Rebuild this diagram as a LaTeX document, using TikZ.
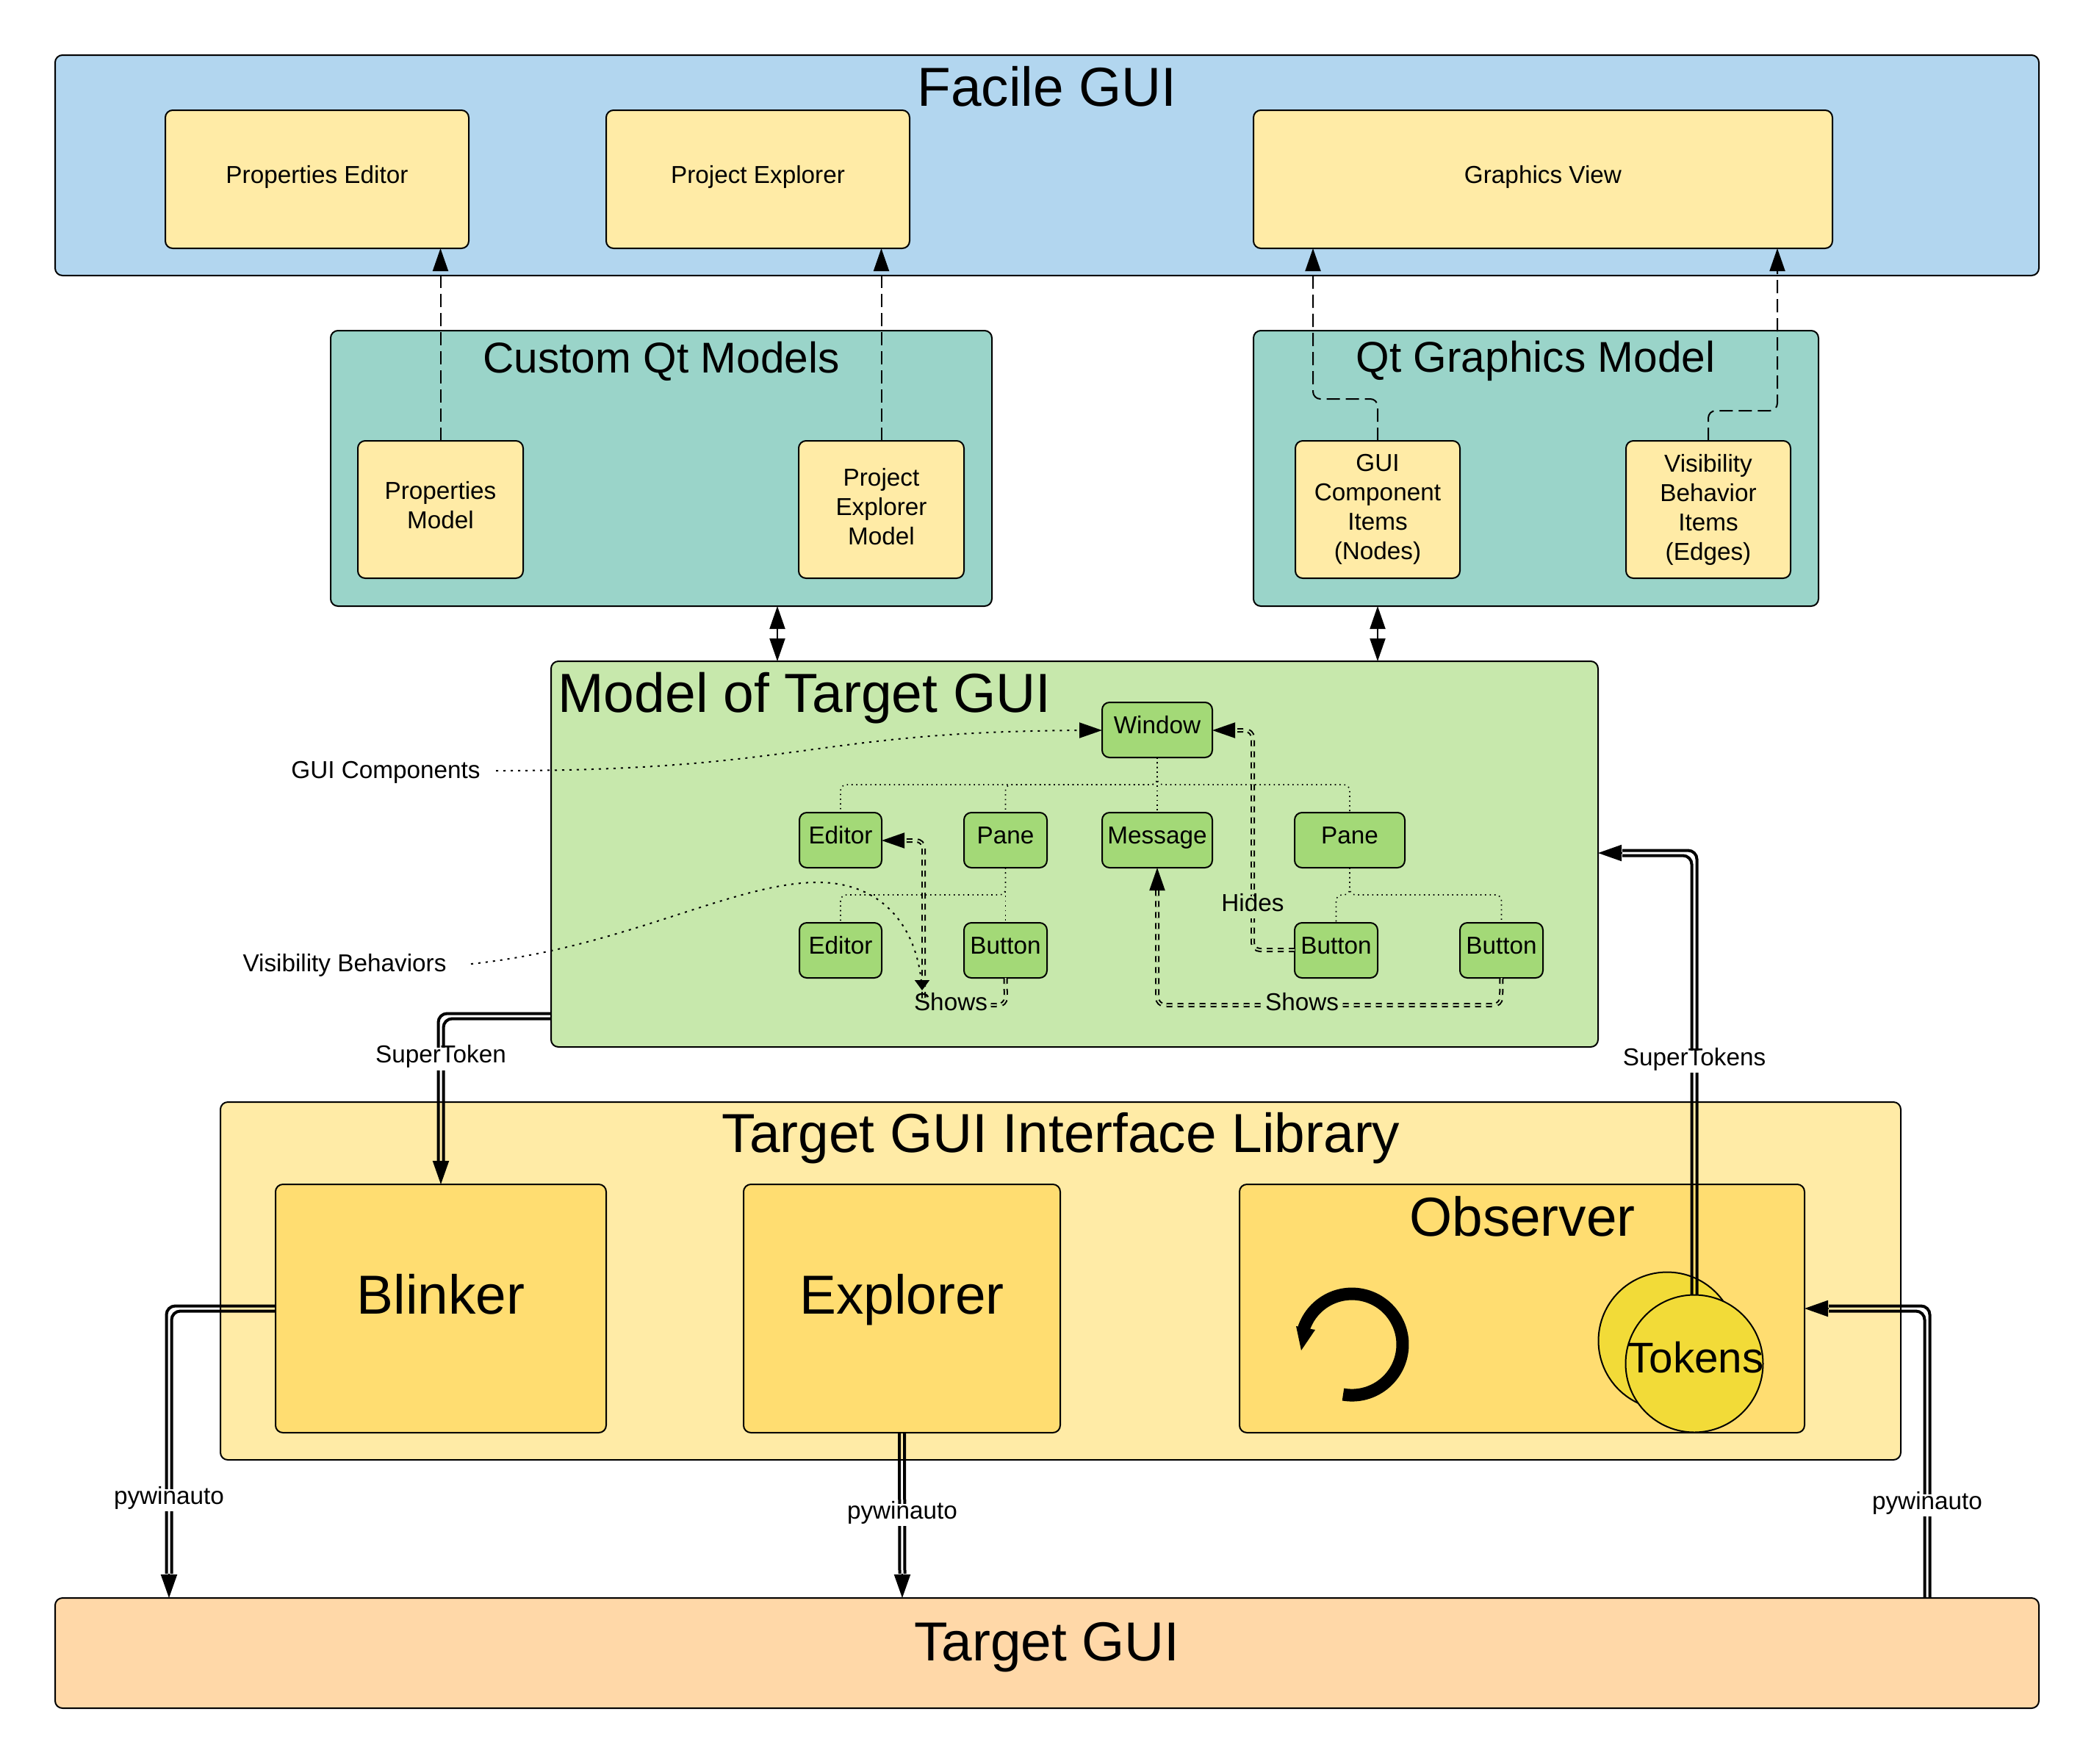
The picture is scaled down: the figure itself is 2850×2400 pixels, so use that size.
\documentclass[tikz,border=0pt]{standalone}
\usepackage{fontspec}
\setmainfont{Liberation Sans}
\usetikzlibrary{arrows.meta,calc}
\definecolor{cblue}{HTML}{B2D6EF}
\definecolor{cteal}{HTML}{9AD4C9}
\definecolor{cgreen}{HTML}{C7E8AC}
\definecolor{cgreenb}{HTML}{A3D977}
\definecolor{cyel}{HTML}{FFEBA6}
\definecolor{cyelb}{HTML}{FFDD71}
\definecolor{corg}{HTML}{FFD8A8}
\definecolor{ctok}{HTML}{F2DB38}
\newcommand\fs[1]{\fontsize{#1}{20pt}\selectfont}
\newcommand\bx[7]{\node[boxnode,#1,minimum width={(#5-#3)*.5pt},minimum height={(#6-#4)*.5pt}] (#2) at ({(#3+#5)/2},{(#4+#6)/2}) {#7};}
\tikzset{
 boxnode/.style={draw=black,line width=1pt,rounded corners=5pt,inner sep=0pt,outer sep=0pt,align=center,font=\fs{16.65}},
 oneline/.style={text height=.73em,text depth=.2em},
 bigtxt/.style={font=\fs{37.4},text height=.94em,text depth=.17em},
 title/.style={inner sep=0pt,anchor=base},
 conlabel/.style={font=\fs{16.65},text height=.73em,text depth=.21em,inner xsep=2pt,inner ysep=3pt},
 dashline/.style={line width=1pt,dash pattern=on 9pt off 4pt,rounded corners=5pt,-{Triangle[length=15.5pt,width=10.5pt]}},
 twohead/.style={line width=1pt,{Triangle[length=15.5pt,width=10.5pt]}-{Triangle[length=15.5pt,width=10.5pt]}},
 dblline/.style={line width=2pt,rounded corners=6pt},
 dblhead/.style={line width=1pt,-{Triangle[length=16pt,width=11pt]}},
 ddash/.style={line width=1pt,double=cgreen,double distance=1pt,dash pattern=on 4pt off 3.5pt,rounded corners=5pt},
 ddhead/.style={line width=1pt,-{Triangle[length=15.5pt,width=10.5pt]}},
 treeline/.style={line width=.8pt,dash pattern=on .8pt off 2.4pt,rounded corners=4pt},
 noteline/.style={line width=1pt,dash pattern=on 1.5pt off 3.5pt},
}
\begin{document}
\begin{tikzpicture}[x=.5pt,y=-.5pt]
\useasboundingbox (0,0) rectangle (2850,2400);
% containers
\bx{fill=cblue}{facile}{75}{75}{2775}{375}{}
\bx{fill=cteal}{cqm}{450}{450}{1350}{825}{}
\bx{fill=cteal}{qgm}{1706}{450}{2475}{825}{}
\bx{fill=cgreen}{model}{750}{900}{2175}{1425}{}
\bx{fill=cyel}{lib}{300}{1500}{2587}{1987}{}
\bx{fill=corg,bigtxt,text height=1.13em,text depth=.06em}{target}{75}{2175}{2775}{2325}{Target GUI}
% titles
\node[title,font=\fs{37.4}] (tfacile) at (1425,144) {Facile GUI};
\node[title,font=\fs{29.3}] (tcqm) at (900,507) {Custom Qt Models};
\node[title,font=\fs{29.3}] (tqgm) at (2090,506) {Qt Graphics Model};
\node[title,font=\fs{37.5}] (tmodel) at (1095,969) {Model of Target GUI};
\node[title,font=\fs{37.4}] (tlib) at (1444,1568) {Target GUI Interface Library};
% yellow boxes
\bx{fill=cyel,oneline}{pe}{225}{150}{638}{338}{Properties Editor}
\bx{fill=cyel,oneline}{px}{825}{150}{1238}{338}{Project Explorer}
\bx{fill=cyel,oneline}{gv}{1706}{150}{2494}{338}{Graphics View}
\bx{fill=cyel,text depth=6.4pt}{pm}{487}{600}{712}{787}{Properties\\Model}
\bx{fill=cyel,text depth=3.6pt}{xm}{1087}{600}{1312}{787}{Project\\Explorer\\Model}
\bx{fill=cyel}{gi}{1763}{600}{1987}{787}{GUI\\Component\\Items\\(Nodes)}
\bx{fill=cyel}{vi}{2213}{600}{2437}{787}{Visibility\\Behavior\\Items\\(Edges)}
% green boxes
\bx{fill=cgreenb,oneline}{win}{1500}{956}{1650}{1031}{Window}
\bx{fill=cgreenb,oneline}{ed}{1088}{1106}{1200}{1181}{Editor}
\bx{fill=cgreenb,oneline}{pa}{1312}{1106}{1425}{1181}{Pane}
\bx{fill=cgreenb,oneline}{msg}{1500}{1106}{1650}{1181}{Message}
\bx{fill=cgreenb,oneline}{pb}{1762}{1106}{1912}{1181}{Pane}
\bx{fill=cgreenb,oneline}{edb}{1088}{1256}{1200}{1331}{Editor}
\bx{fill=cgreenb,oneline}{bta}{1312}{1256}{1425}{1331}{Button}
\bx{fill=cgreenb,oneline}{btb}{1762}{1256}{1875}{1331}{Button}
\bx{fill=cgreenb,oneline}{btc}{1987}{1256}{2100}{1331}{Button}
% lower boxes
\bx{fill=cyelb,bigtxt}{blink}{375}{1612}{825}{1950}{Blinker}
\bx{fill=cyelb,bigtxt}{expl}{1012}{1612}{1443}{1950}{Explorer}
\bx{fill=cyelb}{obs}{1687}{1612}{2456}{1950}{}
\node[title,font=\fs{37.4}] (tobs) at (2072,1682) {Observer};
% loop arrow
\draw[line width=8.5pt] (1828,1898) arc[start angle=260,end angle=525,radius=34.5pt];
\fill (1764,1805) -- (1790,1810) -- (1771,1838) -- cycle;
% tokens
\node[circle,draw=black,line width=1pt,fill=ctok,minimum size=93.5pt,inner sep=0pt,outer sep=0pt] (toka) at (2269,1825) {};
% Tokens -> model
\coordinate (tokstart) at (2306,1763);
\coordinate (mright) at (2175,1161);
\coordinate (mrightb) at (2208,1161);
\foreach \o in {-1.75,1.75}
  \draw[dblline] ([xshift=\o pt]tokstart) |- ([yshift=\o pt]mrightb);
\draw[dblhead] (mrightb) -- (mright);
\node[circle,draw=black,line width=1pt,fill=ctok,minimum size=93.5pt,inner sep=0pt,outer sep=0pt] (tokb) at (2306,1856) {};
\node[title,font=\fs{29.2}] (ttok) at (2308,1868) {Tokens};
% dashed connectors
\draw[dashline] (pm.north) -- (pm.north |- pe.south);
\draw[dashline] (xm.north) -- (xm.north |- px.south);
\coordinate (gia) at (1787,543);
\coordinate (gib) at (2419,559);
\coordinate (gvl) at (1787,338);
\coordinate (gvr) at (2419,338);
\draw[dashline] (gi.north) |- (gia) -- (gvl);
\draw[dashline] (vi.north) |- (gib) -- (gvr);
% double-headed
\coordinate (ca) at (1058,825);
\coordinate (cb) at (1058,900);
\coordinate (cc) at (1875,825);
\coordinate (cd) at (1875,900);
\draw[twohead] (ca) -- (cb);
\draw[twohead] (cc) -- (cd);
% tree
\coordinate (tra) at (0,1068);
\coordinate (trb) at (0,1218);
\draw[treeline] (win.south) -- (win.south |- tra) -| (ed.north);
\draw[treeline] (win.south) -- (win.south |- tra) -| (pa.north);
\draw[treeline] (win.south) -- (msg.north);
\draw[treeline] (win.south) -- (win.south |- tra) -| (pb.north);
\draw[treeline] (pa.south) -- (pa.south |- trb) -| (edb.north);
\draw[treeline] (pa.south) -- (bta.north);
\draw[treeline] (pb.south) -- (pb.south |- trb) -| (btb.north);
\draw[treeline] (pb.south) -- (pb.south |- trb) -| (btc.north);
% double dashed behaviours
\coordinate (ewin) at (1650,994);
\coordinate (ewinb) at (1680,994);
\coordinate (hb) at (1762,1293);
\coordinate (hc) at (1705,1293);
\draw[ddash] (hb) -- (hc) -- (ewinb -| hc) -- (ewinb);
\draw[ddhead] (ewinb) -- (ewin);
\coordinate (eed) at (1200,1144);
\coordinate (eedb) at (1230,1144);
\coordinate (sa) at (1369,1368);
\coordinate (sb) at (1257,1368);
\draw[ddash] (bta.south) -- (sa) -- (sb) -- (eedb -| sb) -- (eedb);
\draw[ddhead] (eedb) -- (eed);
\coordinate (sc) at (2043,1368);
\coordinate (sd) at (1575,1368);
\coordinate (se) at (1575,1211);
\draw[ddash] (btc.south) -- (sc) -- (sd) -- (se);
\draw[ddhead] (se) -- (msg.south);
% double connectors
\coordinate (d1a) at (750,1383);
\coordinate (d1b) at (600,1580);
\foreach \o in {-1.75,1.75}
  \draw[dblline] ([yshift=-\o pt]d1a) -| ([xshift=\o pt]d1b);
\draw[dblhead] (d1b) -- (blink.north);
\coordinate (d2a) at (375,1781);
\coordinate (d2b) at (230,2142);
\coordinate (d2c) at (230,2175);
\foreach \o in {-1.75,1.75}
  \draw[dblline] ([yshift=-\o pt]d2a) -| ([xshift=\o pt]d2b);
\draw[dblhead] (d2b) -- (d2c);
\coordinate (d3a) at (1228,2142);
\coordinate (d3c) at (1228,2175);
\foreach \o in {-1.75,1.75}
  \draw[dblline] ([xshift=\o pt]expl.south) -- ([xshift=\o pt]d3a);
\draw[dblhead] (d3a) -- (d3c);
\coordinate (d4a) at (2623,2175);
\coordinate (d4b) at (2489,1781);
\coordinate (d4c) at (2456,1781);
\foreach \o in {-1.75,1.75}
  \draw[dblline] ([xshift=\o pt]d4a) |- ([yshift=\o pt]d4b);
\draw[dblhead] (d4b) -- (d4c);
% notes
\node[font=\fs{16.65}] (ngui) at (525,1051) {GUI Components};
\node[font=\fs{16.65}] (nvis) at (469,1314) {Visibility Behaviors};
\coordinate (n1) at (675,1049);
\coordinate (n2) at (1490,994);
\coordinate (n3) at (641,1312);
\coordinate (n4) at (1115,1201);
\coordinate (n5) at (1255,1348);
\draw[noteline] (n1) .. controls (1100,1049) and (1100,994) .. (n2);
\draw[line width=1pt,-{Triangle[length=15.5pt,width=10.5pt]}] (1470,994) -- (win.west |- n2);
\draw[noteline] (n3) .. controls (850,1290) and (1000,1200) .. (n4) .. controls (1200,1202) and (1250,1260) .. (n5);
\draw[line width=1pt,-{Triangle[length=7pt,width=10pt]}] (1255,1336) -- (n5);
% labels
\node[conlabel,fill=white] (l1) at (600,1441.6) {SuperToken};
\node[conlabel,fill=white] (l2) at (2306,1445) {SuperTokens};
\node[conlabel,fill=white] (l3) at (230,2042) {pywinauto};
\node[conlabel,fill=white] (l4) at (1228,2062) {pywinauto};
\node[conlabel,fill=white] (l5) at (2623,2049) {pywinauto};
\node[conlabel,fill=cgreen,inner xsep=0pt] (l6) at (1705,1235) {Hides};
\node[conlabel,fill=cgreen,inner ysep=1pt,inner xsep=0pt] (l7) at (1294,1370) {Shows};
\node[conlabel,fill=cgreen,inner ysep=1pt,inner xsep=0pt] (l8) at (1772,1370) {Shows};
\end{tikzpicture}
\end{document}
